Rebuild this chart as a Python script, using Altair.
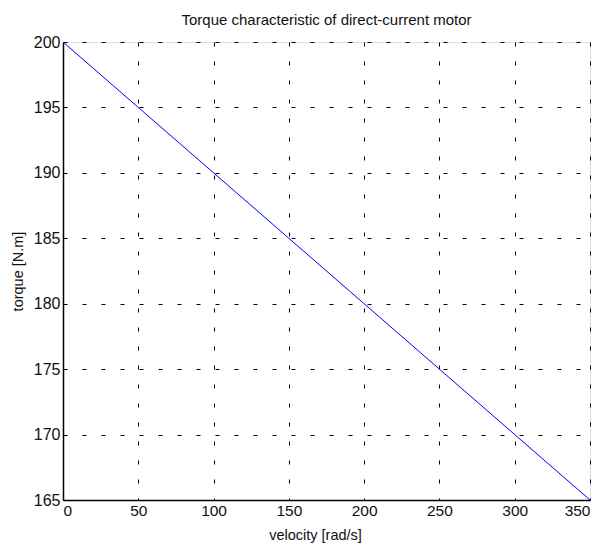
import altair as alt
import pandas as pd

velocity = [0, 50, 100, 150, 200, 250, 300, 350]
torque = [200, 195, 190, 185, 180, 175, 170, 165]

df = pd.DataFrame({"velocity": velocity, "torque": torque})

font = "Liberation Sans"

line = alt.Chart(df).mark_line(color="#0000ff", strokeWidth=1).encode(
    x=alt.X("velocity:Q", scale=alt.Scale(domain=[0, 350], nice=False),
            axis=alt.Axis(title="velocity [rad/s]", values=[0, 50, 100, 150, 200, 250, 300, 350],
                          grid=True, gridColor="black", gridDash=[4, 15], gridOpacity=1, gridWidth=1,
                          domainColor="black", domainWidth=1.5, tickColor="black", tickSize=0,
                          labelFont=font, labelFontSize=15.5, labelColor="#111111", labelPadding=3,
                          titleFont=font, titleFontSize=14.5, titleFontWeight="normal",
                          titleColor="#111111", titlePadding=10, titleX=252, titleAlign="center")),
    y=alt.Y("torque:Q", scale=alt.Scale(domain=[165, 200], nice=False, zero=False),
            axis=alt.Axis(title="torque [N.m]", values=[165, 170, 175, 180, 185, 190, 195, 200],
                          grid=True, gridColor="black", gridDash=[4, 15], gridOpacity=1, gridWidth=1,
                          domainColor="black", domainWidth=1.5, tickColor="black", tickSize=0,
                          labelFont=font, labelFontSize=16, labelColor="#111111", labelPadding=3,
                          titleFont=font, titleFontSize=14.5, titleFontWeight="normal",
                          titleColor="#111111", titlePadding=8)),
)

chart = line.properties(
    width=527,
    height=458,
    title=alt.Title("Torque characteristic of direct-current motor", font=font, fontSize=15,
                    fontWeight="normal", color="#111111", offset=6),
    autosize=alt.AutoSizeParams(type="none"),
    padding={"left": 63, "top": 42, "right": 15, "bottom": 45},
).configure_view(stroke="black", strokeWidth=1.5).configure(background="white")

chart.save("out.html", embed_options={"renderer": "svg", "actions": False})
